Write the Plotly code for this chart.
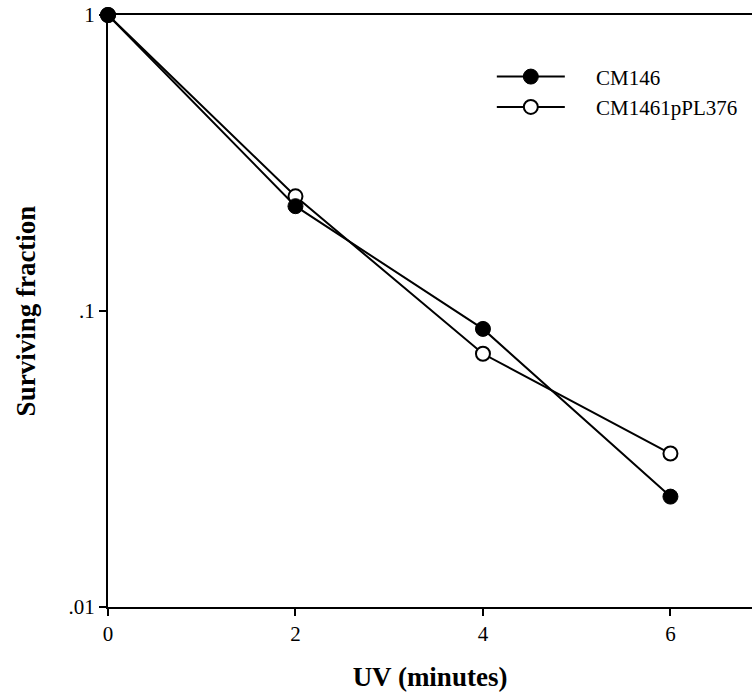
import plotly.graph_objects as go

uv_minutes = [0, 2, 4, 6]
cm146 = [1.0, 0.226, 0.087, 0.0236]
cm1461ppl376 = [1.0, 0.244, 0.0717, 0.033]

x_ticks = [0, 2, 4, 6]
y_ticks = [0.01, 0.1, 1]
y_tick_labels = [".01", ".1", "1"]

FONT = "Liberation Serif"
PAD = "\u00a0" * 5

fig = go.Figure()
fig.add_trace(go.Scatter(
    x=uv_minutes, y=cm1461ppl376, name=PAD + "CM1461pPL376", mode="lines+markers",
    line=dict(color="black", width=2),
    marker=dict(symbol="circle", size=14, color="white", line=dict(color="black", width=2)),
    cliponaxis=False, legendrank=2,
))
fig.add_trace(go.Scatter(
    x=uv_minutes, y=cm146, name=PAD + "CM146", mode="lines+markers",
    line=dict(color="black", width=2),
    marker=dict(symbol="circle", size=15, color="black", line=dict(color="black", width=1)),
    cliponaxis=False, legendrank=1,
))

fig.update_layout(
    width=752, height=696,
    margin=dict(l=108, r=0, t=15, b=89),
    paper_bgcolor="white", plot_bgcolor="white",
    font=dict(family=FONT, size=20, color="black"),
    showlegend=True,
    legend=dict(x=0.596, y=0.93, xanchor="left", yanchor="top",
                bgcolor="rgba(255,255,255,0)", borderwidth=0,
                font=dict(family=FONT, size=21, color="black"),
                itemwidth=68, tracegroupgap=0),
    xaxis=dict(
        range=[0, 6.87], tickvals=x_ticks, ticktext=[str(v) for v in x_ticks],
        showgrid=False, zeroline=False, showline=True, linecolor="black", linewidth=2,
        mirror=True, ticks="outside", ticklen=7, tickwidth=2, tickcolor="black",
        tickfont=dict(family=FONT, size=21),
        title=dict(text="<b>UV (minutes)</b>", font=dict(family=FONT, size=27), standoff=22),
    ),
    yaxis=dict(
        type="log", range=[-2, 0], tickvals=y_ticks, ticktext=y_tick_labels,
        showgrid=False, zeroline=False, showline=True, linecolor="black", linewidth=2,
        mirror=False, ticks="outside", ticklen=7, tickwidth=2, tickcolor="black",
        tickfont=dict(family=FONT, size=21),
        title=dict(text="<b>Surviving fraction</b>", font=dict(family=FONT, size=27), standoff=25),
    ),
)

fig.write_html("out.html")
